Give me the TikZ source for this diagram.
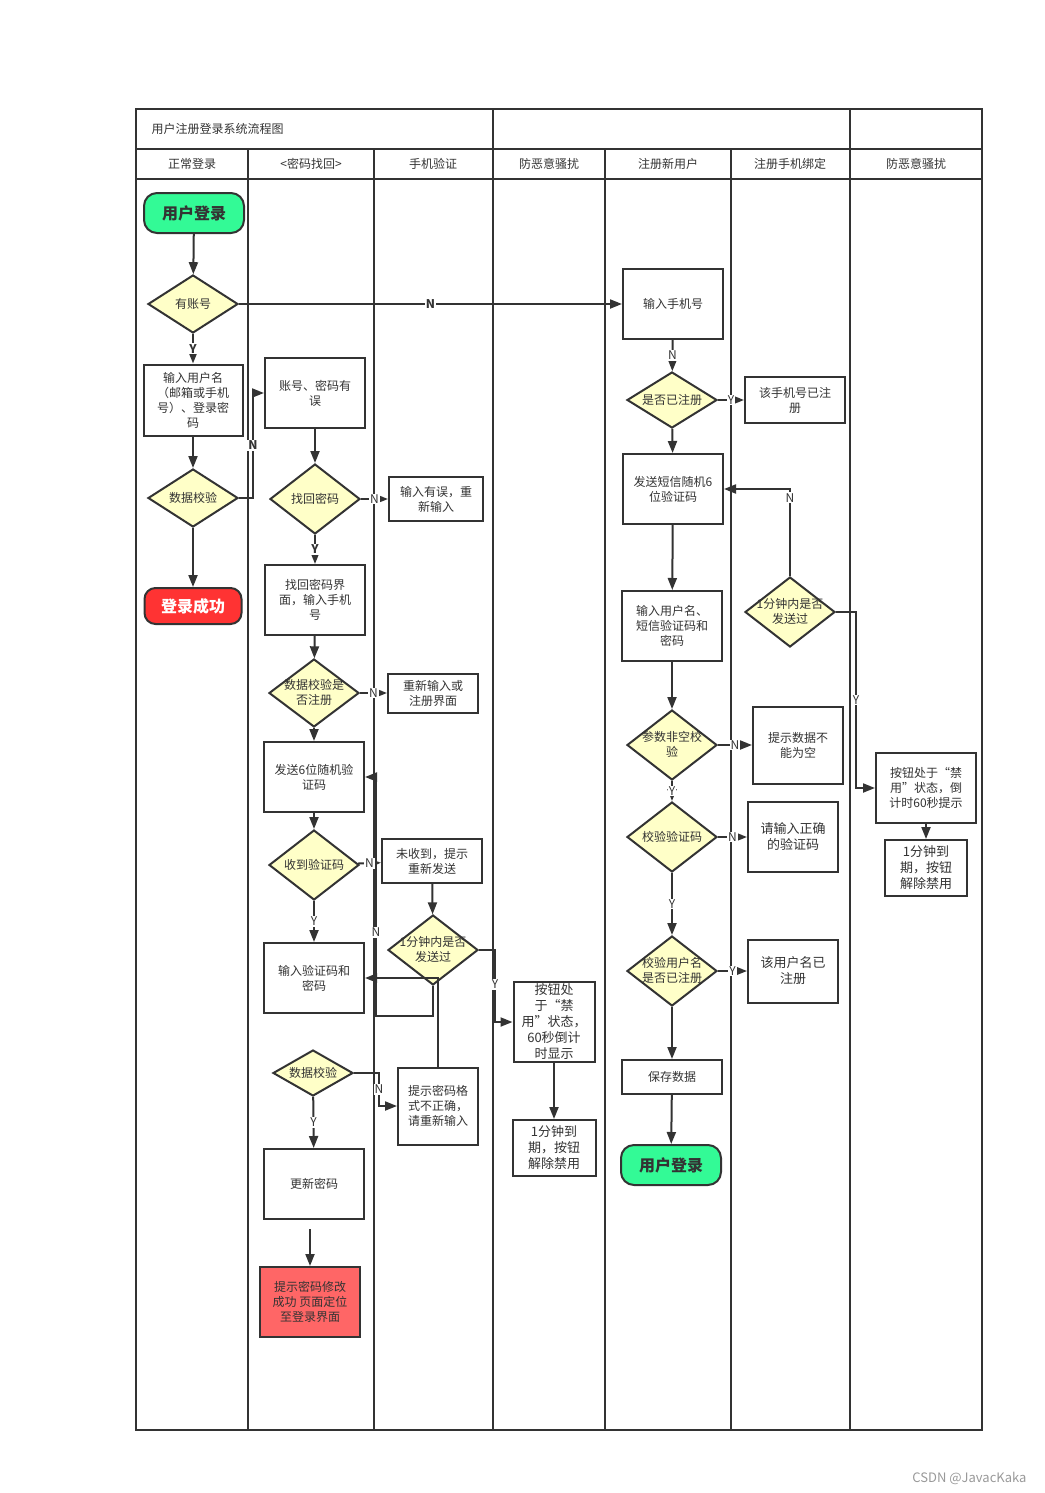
\documentclass[tikz,border=0pt]{standalone}
\usepackage{fontspec}
\setmainfont{Noto Sans CJK SC}
\usetikzlibrary{shapes.geometric,arrows.meta}
\definecolor{ink}{RGB}{51,51,51}
\definecolor{dfill}{RGB}{255,255,200}
\definecolor{tgreen}{RGB}{51,250,150}
\definecolor{tred}{RGB}{255,51,51}
\definecolor{bred}{RGB}{255,102,102}
% text of a diamond, kept out of its size
\newcommand{\dtxt}[1]{\raisebox{-4pt}[0pt][0pt]{\makebox[0pt]{\begin{tabular}{@{}c@{}}#1\end{tabular}}}}

\begin{document}
\begin{tikzpicture}[x=1pt,y=-1pt,
    every node/.style={text=ink,font=\fontsize{12}{15}\selectfont},
    box/.style={draw=ink,line width=2pt,fill=white,align=center,minimum width=100pt,minimum height=70pt,inner sep=2pt},
    big/.style={font=\fontsize{13}{16}\selectfont},
    dia/.style={diamond,draw=ink,line width=2pt,fill=dfill,inner sep=0pt,minimum width=90pt,minimum height=70pt},
    term/.style={draw=ink,line width=2pt,rounded corners=13pt,fill=tgreen,minimum width=100pt,minimum height=40pt,font=\bfseries\fontsize{16}{18}\selectfont},
    yn/.style={fill=white,inner sep=1pt,font=\fontsize{12}{12}\selectfont},
    ynb/.style={yn,font=\bfseries\fontsize{12}{12}\selectfont},
    arr/.style={draw=ink,line width=2pt,-{Triangle[length=12pt,width=9pt]}},
    frame/.style={draw=ink,line width=2pt}]
    \useasboundingbox (0,0) rectangle (1044,1493);

    % swimlane frame
    \draw[frame] (136,109) rectangle (982,1430);
    \draw[frame] (136,149) -- (982,149) (136,179) -- (982,179);
    \draw[frame] (493,109) -- (493,149) (850,109) -- (850,149);
    \foreach \x in {248,374,493,605,731,850}
        \draw[frame] (\x,149) -- (\x,1430);
    \node[anchor=west] (title) at (148,129) {用户注册登录系统流程图};
    \foreach \x/\t [count=\i] in {192/正常登录,311/<密码找回>,433/手机验证,549/防恶意骚扰,668/注册新用户,790/注册手机绑定,916/防恶意骚扰}
        \node (lane\i) at (\x,164) {\t};

    % normal login
    \node[term] (login1) at (194,213) {用户登录};
    \node[dia,minimum height=58pt] (hasacc) at (193,304) {\dtxt{有账号}};
    \node[box,minimum width=99pt,minimum height=71pt] (inuser) at (193,400) {输入用户名\\（邮箱或手机\\号）、登录密\\码};
    \node[dia,minimum height=58pt] (chk1) at (193,498) {\dtxt{数据校验}};
    \node[term,fill=tred,text=white,minimum width=97pt,minimum height=36pt,rounded corners=11pt] (ok) at (193,606) {登录成功};

    % password recovery
    \node[box] (pwerr) at (315,393) {账号、密码有\\误};
    \node[dia] (findpw) at (315,499) {\dtxt{找回密码}};
    \node[box] (findui) at (315,600) {找回密码界\\面，输入手机\\号};
    \node[dia,minimum height=68pt] (chkreg) at (314,693) {\dtxt{数据校验是\\否注册}};
    \node[box] (send6) at (314,777) {发送6位随机验\\证码};
    \node[dia] (gotcode) at (314,865) {\dtxt{收到验证码}};
    \node[box] (incode) at (314,978) {输入验证码和\\密码};
    \node[dia,minimum width=80pt,minimum height=46pt] (chk2) at (313,1073) {\dtxt{数据校验}};
    \node[box] (newpw) at (314,1184) {更新密码};
    \node[box,fill=bred] (done) at (310,1302) {提示密码修改\\成功 页面定位\\至登录界面};

    % phone check
    \node[box,minimum width=94pt,minimum height=44pt] (reinput) at (436,499) {输入有误，重\\新输入};
    \node[box,minimum width=90pt,minimum height=39pt] (rereg) at (433,693) {重新输入或\\注册界面};
    \node[box,minimum height=44pt] (notgot) at (432,861) {未收到，提示\\重新发送};
    \node[dia] (sent1) at (433,950) {\dtxt{1分钟内是否\\发送过}};
    \node[box,minimum width=80pt,minimum height=77pt] (fmterr) at (438,1106) {提示密码格\\式不正确，\\请重新输入};

    % anti spam
    \node[box,big,minimum width=81pt,minimum height=80pt,inner sep=0pt] (lock1) at (554,1022) {按钮处\\于“禁\\用”状态，\\60秒倒计\\时显示};
    \node[box,big,minimum width=83pt,minimum height=56pt] (unlock1) at (554,1148) {1分钟到\\期，按钮\\解除禁用};

    % new user
    \node[box] (inphone) at (673,304) {输入手机号};
    \node[dia,minimum height=56pt] (isreg) at (672,400) {\dtxt{是否已注册}};
    \node[box] (sendsms) at (673,489) {发送短信随机6\\位验证码};
    \node[box] (inform) at (672,626) {输入用户名、\\短信验证码和\\密码};
    \node[dia] (nonempty) at (672,745) {\dtxt{参数非空校\\验}};
    \node[dia] (chkcode) at (672,837) {\dtxt{校验验证码}};
    \node[dia] (chkname) at (672,971) {\dtxt{校验用户名\\是否已注册}};
    \node[box,minimum height=34pt] (save) at (672,1077) {保存数据};
    \node[term] (login2) at (671,1165) {用户登录};

    % phone binding
    \node[box,minimum height=46pt] (phonereg) at (795,400) {该手机号已注\\册};
    \node[dia] (sent2) at (790,612) {\dtxt{1分钟内是否\\发送过}};
    \node[box,minimum width=90pt,minimum height=77pt] (empty) at (798,745) {提示数据不\\能为空};
    \node[box,big,minimum width=90pt] (wrongcode) at (793,837) {请输入正确\\的验证码};
    \node[box,big,minimum width=90pt,minimum height=63pt] (namereg) at (793,971) {该用户名已\\注册};

    % anti spam
    \node[box,minimum height=70pt] (lock2) at (926,788) {按钮处于“禁\\用”状态，倒\\计时60秒提示};
    \node[box,big,minimum width=82pt,minimum height=56pt] (unlock2) at (926,868) {1分钟到\\期，按钮\\解除禁用};

    \node[anchor=east,text=black!40,font=\fontsize{13}{15}\selectfont] (mark) at (1030,1478) {CSDN @JavacKaka};

    % connectors
    \draw[arr] (login1) -- (hasacc);
    \draw[arr] (hasacc) -- node[ynb] {N} (inphone);
    \draw[arr] (hasacc) -- node[ynb] {Y} (inuser);
    \draw[arr] (inuser) -- (chk1);
    \draw[arr] (chk1) -- (ok);
    \draw[arr] (chk1.east) -- ++(14,0) |- node[ynb,pos=0.25] {N} (pwerr.west);

    \draw[arr] (pwerr) -- (findpw);
    \draw[arr] (findpw) -- node[yn] {N} (reinput);
    \draw[arr] (findpw) -- node[ynb] {Y} (findui);
    \draw[arr] (findui) -- (chkreg);
    \draw[arr] (chkreg) -- node[yn] {N} (rereg);
    \draw[arr] (chkreg) -- (send6);
    \draw[arr] (send6) -- (gotcode);
    \draw[arr] (gotcode) -- node[yn] {N} (notgot);
    \draw[arr] (gotcode) -- node[yn] {Y} (incode);
    \draw[arr] (notgot) -- (sent1);
    \draw[arr] (sent1.south) -- ++(0,30) -- ++(-57,0) |- node[yn,pos=0.175] {N} (send6.east);
    \draw[arr] (sent1.east) -- ++(16,0) |- node[yn,pos=0.24] {Y} (lock1.west);
    \draw[arr] (fmterr.north) |- (incode.east);
    \draw[arr] (chk2.east) -- ++(25,0) |- node[yn,pos=0.25] {N} (fmterr.west);
    \draw[arr] (chk2) -- node[yn] {Y} (newpw);
    \draw[arr,shorten <=9pt] (newpw.south -| done.north) -- (done.north);
    \draw[arr] (lock1) -- (unlock1);

    \draw[arr] (inphone) -- node[yn] {N} (isreg);
    \draw[arr] (isreg) -- node[yn] {Y} (phonereg);
    \draw[arr] (isreg) -- (sendsms);
    \draw[arr] (sendsms) -- (inform);
    \draw[arr] (inform) -- (nonempty);
    \draw[arr] (nonempty) -- node[yn] {N} (empty);
    \draw[arr] (nonempty) -- node[yn] {Y} (chkcode);
    \draw[arr] (chkcode) -- node[yn] {N} (wrongcode);
    \draw[arr] (chkcode) -- node[yn] {Y} (chkname);
    \draw[arr] (chkname) -- node[yn] {Y} (namereg);
    \draw[arr] (chkname) -- (save);
    \draw[arr] (save) -- (login2);
    \draw[arr] (sent2.north) |- node[yn,pos=0.45] {N} (sendsms.east);
    \draw[arr] (sent2.east) -- ++(20,0) |- node[yn,pos=0.25] {Y} (lock2.west);
    \draw[arr] (lock2) -- (unlock2);
\end{tikzpicture}
\end{document}
